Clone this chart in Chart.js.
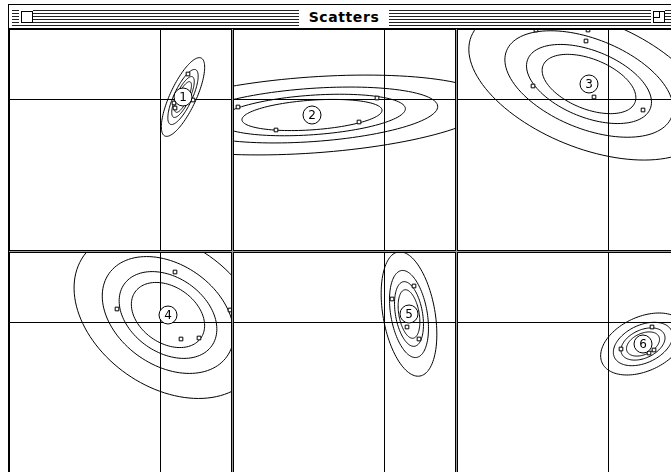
<!DOCTYPE html>
<html lang="en">
<head>
  <meta charset="UTF-8" />
  <title>Scatters</title>
  <script src="https://cdn.jsdelivr.net/npm/chart.js"></script>
  <style>
    html, body { margin: 0; padding: 0; width: 671px; height: 472px; overflow: hidden; background: #fff; }
    #titlebar { position: absolute; left: 8px; top: 4px; width: 680px; height: 23px; border: 1px solid #000; background: #fff; }
    #stripes { position: absolute; left: 3px; right: 0; top: 5px; height: 16px;
      background: repeating-linear-gradient(to bottom, #222 0 1px, #fff 1px 3px); }
    #closebox { position: absolute; left: 10px; top: 5px; width: 14px; height: 14px; background: #fff; }
    #closebox div { position: absolute; left: 2px; top: 1px; width: 10px; height: 10px; border: 1px solid #000; }
    #zoombox { position: absolute; left: 642px; top: 5px; width: 14px; height: 14px; background: #fff; }
    #zoombox div { position: absolute; left: 2px; top: 1px; width: 10px; height: 10px; border: 1px solid #000; }
    #zoombox span { position: absolute; left: 2px; top: 1px; width: 6px; height: 6px; border-right: 1px solid #000; border-bottom: 1px solid #000; }
    #title { position: absolute; left: 290px; width: 90px; top: 3px; height: 18px; background: #fff;
      font: bold 14px "DejaVu Sans", sans-serif; letter-spacing: 0.6px; text-align: center; line-height: 18px; color: #000; }
    #grid { position: absolute; left: 8px; top: 29px; width: 700px; height: 460px; background: #9a9a9a; border-left: 1px solid #000; }
    .panel { position: absolute; width: 221px; height: 220px; border: 1px solid #000; background: #fff; }
    .panel canvas { display: block; }
  </style>
</head>
<body>
  <div id="titlebar">
    <div id="stripes"></div>
    <div id="closebox"><div></div></div>
    <div id="zoombox"><div></div><span></span></div>
    <div id="title">Scatters</div>
  </div>
  <div id="grid"></div>

  <script>
    // one panel per cluster, crosshair sits at (0, 0)
    const clusterIds = ['1', '2', '3', '4', '5', '6'];
    const centerX = [2.3, -7.2, -1.9, 0.8, 2.5, 3.5];
    const centerY = [0.2, -1.6, 1.5, 0.7, 0.8, -2.2];
    const axisMajor = [4.3, 18.0, 12.7, 10.3, 6.3, 4.5];
    const axisMinor = [1.3, 3.8, 6.4, 7.2, 2.6, 2.7];
    const axisAngle = [65, 4, -22, -35, -80, 25];   // degrees
    const contourScales = [1, 0.7, 0.52, 0.39];

    const pointsX = [
      [2.8, 1.4, 3.3, 1.5],
      [-14.6, -10.8, -2.5, -0.7],
      [-2.2, -7.5, -1.4, 3.5, -7.2, -2.0],
      [1.5, -4.3, 2.1, 3.9, 7.0],
      [3.0, 0.8, 2.3, 3.5],
      [4.4, 1.3, 4.6, 4.1]
    ];
    const pointsY = [
      [2.5, -0.4, -0.1, -0.9],
      [-0.8, -3.1, -2.3, 0.1],
      [5.8, 1.3, 0.2, -1.1, 6.9, 6.9],
      [5.0, 1.3, -1.7, -1.6, 1.2],
      [3.6, 2.3, -0.5, -1.7],
      [-0.5, -2.7, -2.8, -3.1]
    ];

    const xRange = [-15.0, 7.1];
    const yRange = [-15.1, 6.9];

    // crosshair + contour ellipses + circled cluster number
    const clusterPlugin = {
      id: 'cluster',
      beforeDatasetsDraw(chart) {
        const i = chart.options.plugins.cluster.index;
        const { ctx, chartArea } = chart;
        const xs = chart.scales.x, ys = chart.scales.y;
        ctx.save();
        ctx.beginPath();
        ctx.rect(chartArea.left, chartArea.top, chartArea.right - chartArea.left, chartArea.bottom - chartArea.top);
        ctx.clip();

        ctx.strokeStyle = '#000';
        ctx.lineWidth = 1;
        const x0 = Math.round(xs.getPixelForValue(0)) + 0.5;
        const y0 = Math.round(ys.getPixelForValue(0)) + 0.5;
        ctx.beginPath();
        ctx.moveTo(x0, chartArea.top); ctx.lineTo(x0, chartArea.bottom);
        ctx.moveTo(chartArea.left, y0); ctx.lineTo(chartArea.right, y0);
        ctx.stroke();

        const th = axisAngle[i] * Math.PI / 180;
        ctx.strokeStyle = '#000';
        contourScales.forEach(s => {
          const a = axisMajor[i] * s, b = axisMinor[i] * s;
          ctx.beginPath();
          for (let k = 0; k <= 120; k++) {
            const t = k / 120 * Math.PI * 2;
            const dx = a * Math.cos(t), dy = b * Math.sin(t);
            const vx = centerX[i] + dx * Math.cos(th) - dy * Math.sin(th);
            const vy = centerY[i] + dx * Math.sin(th) + dy * Math.cos(th);
            const px = xs.getPixelForValue(vx), py = ys.getPixelForValue(vy);
            if (k === 0) ctx.moveTo(px, py); else ctx.lineTo(px, py);
          }
          ctx.stroke();
        });
        ctx.restore();
      },
      afterDatasetsDraw(chart) {
        const i = chart.options.plugins.cluster.index;
        const { ctx } = chart;
        const px = chart.scales.x.getPixelForValue(centerX[i]);
        const py = chart.scales.y.getPixelForValue(centerY[i]);
        ctx.save();
        ctx.beginPath();
        ctx.arc(px, py, 9, 0, Math.PI * 2);
        ctx.fillStyle = '#fff';
        ctx.fill();
        ctx.strokeStyle = '#000';
        ctx.lineWidth = 1;
        ctx.stroke();
        ctx.fillStyle = '#000';
        ctx.font = '12px "DejaVu Sans", sans-serif';
        ctx.textAlign = 'center';
        ctx.textBaseline = 'middle';
        ctx.fillText(clusterIds[i], px, py + 0.5);
        ctx.restore();
      }
    };

    const grid = document.getElementById('grid');
    clusterIds.forEach((id, i) => {
      const col = i % 3, row = Math.floor(i / 3);
      const box = document.createElement('div');
      box.className = 'panel';
      box.style.left = (col * 224) + 'px';
      box.style.top = (row * 223) + 'px';
      const cv = document.createElement('canvas');
      cv.width = 221; cv.height = 220;
      box.appendChild(cv);
      grid.appendChild(box);

      new Chart(cv, {
        type: 'scatter',
        data: {
          datasets: [{
            data: pointsX[i].map((x, k) => ({ x, y: pointsY[i][k] })),
            pointStyle: 'rect',
            pointRadius: 2.6,
            backgroundColor: '#fff',
            borderColor: '#000',
            borderWidth: 1
          }]
        },
        options: {
          responsive: false,
          animation: false,
          devicePixelRatio: 1,
          layout: { padding: 0, autoPadding: false },
          plugins: { legend: { display: false }, tooltip: { enabled: false }, cluster: { index: i } },
          scales: {
            x: { type: 'linear', display: false, min: xRange[0], max: xRange[1] },
            y: { type: 'linear', display: false, min: yRange[0], max: yRange[1] }
          }
        },
        plugins: [clusterPlugin]
      });
    });
  </script>
</body>
</html>
